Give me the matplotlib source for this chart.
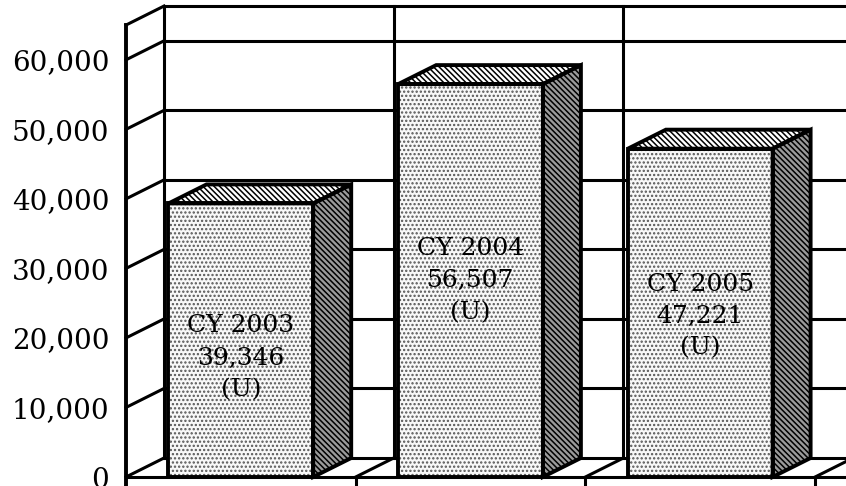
import matplotlib
matplotlib.use("Agg")
import matplotlib.pyplot as plt
from matplotlib.patches import Polygon

categories = ["CY 2003", "CY 2004", "CY 2005"]
values = [39346, 56507, 47221]
value_labels = ["39,346", "56,507", "47,221"]
unit_labels = ["(U)", "(U)", "(U)"]
yticks = [0, 10000, 20000, 30000, 40000, 50000, 60000]
ytick_labels = ["0", "10,000", "20,000", "30,000", "40,000", "50,000", "60,000"]

plt.rcParams["hatch.linewidth"] = 1.1
W, H = 846, 486
fig = plt.figure(figsize=(W / 100, H / 100), dpi=100)
left_px = 126
ax = fig.add_axes([left_px / W, 0, (W - left_px) / W, 1])
px_per_cat = 229.7
px_per_val = 0.006953
y0_px = 477
ax.set_xlim(0, (W - left_px) / px_per_cat)
ax.set_ylim(-(H - y0_px) / px_per_val, y0_px / px_per_val)
for s in ax.spines.values():
    s.set_visible(False)
ax.set_xticks([])
ax.set_yticks(yticks)
ax.set_yticklabels(ytick_labels, fontfamily="DejaVu Serif", fontsize=20)
ax.tick_params(axis="y", length=0, pad=12)

DX = 38 / px_per_cat
DY = 19 / px_per_val
TOP = 65000
XR = ax.get_xlim()[1] + 0.2
lw = 2.2
n = len(categories)

# back wall horizontal gridlines + top, left wall diagonals
for v in yticks + [TOP]:
    ax.plot([DX, XR], [v + DY, v + DY], color="black", lw=lw, zorder=1, clip_on=False)
    ax.plot([0, DX], [v, v + DY], color="black", lw=lw, zorder=1, clip_on=False)
# back wall verticals
for i in range(n + 1):
    ax.plot([i + DX, i + DX], [DY, TOP + DY], color="black", lw=lw, zorder=1, clip_on=False)
# front axis
ax.plot([0, 0], [ax.get_ylim()[0], TOP], color="black", lw=lw + 0.6, zorder=5, clip_on=False)
# floor
ax.plot([0, XR], [0, 0], color="black", lw=lw, zorder=1, clip_on=False)
for i in range(1, n + 1):
    ax.plot([i, i + DX], [0, DY], color="black", lw=lw, zorder=1, clip_on=False)
    ax.plot([i, i], [ax.get_ylim()[0], 0], color="black", lw=lw, zorder=1, clip_on=False)

bw = 0.63
label_frac = [0.435, 0.5, 0.49]
for i, (cat, v) in enumerate(zip(categories, values)):
    c = i + 0.5
    x0, x1 = c - bw / 2, c + bw / 2
    faces = [
        ([(x1, 0), (x1 + DX, DY), (x1 + DX, v + DY), (x1, v)], "#9a9a9a", "black", "\\\\\\\\\\\\"),
        ([(x0, v), (x1, v), (x1 + DX, v + DY), (x0 + DX, v + DY)], "white", "black", "\\\\\\\\\\\\"),
        ([(x0, 0), (x1, 0), (x1, v), (x0, v)], "#f8f8f8", "#555555", "...."),
    ]
    for pts, fc, hc, hatch in faces:
        ax.add_patch(Polygon(pts, closed=True, facecolor=fc, edgecolor=hc, lw=0,
                             hatch=hatch, zorder=3))
        ax.add_patch(Polygon(pts, closed=True, fill=False, edgecolor="black",
                             lw=lw + 0.6, zorder=3.5))
    ax.text(c, v * label_frac[i], f"{cat}\n{value_labels[i]}\n{unit_labels[i]}",
            ha="center", va="center", fontfamily="DejaVu Serif", fontsize=18,
            linespacing=1.5, zorder=6)

fig.savefig("out.png", dpi=100)
